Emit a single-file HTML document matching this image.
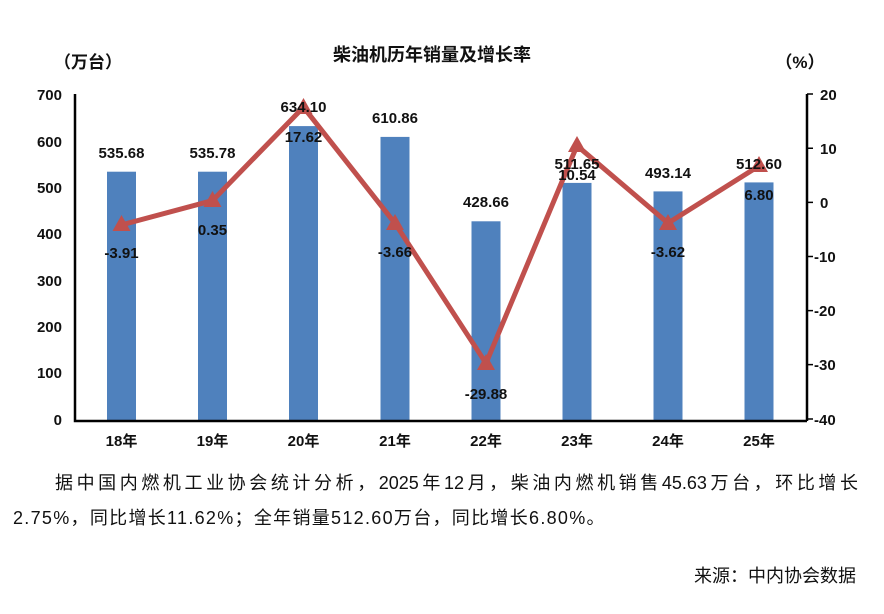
<!DOCTYPE html>
<html><head><meta charset="utf-8"><style>
body{margin:0;background:#fff;width:884px;height:614px;overflow:hidden;font-family:"Liberation Sans","Noto Sans CJK SC",sans-serif}
.p{position:absolute;font-size:18px;color:#111;line-height:30px;white-space:nowrap}
</style></head><body>
<svg width="884" height="470" style="position:absolute;left:0;top:0" font-family="Liberation Sans, Noto Sans CJK SC, sans-serif" font-weight="bold">
<text x="432" y="61" font-size="18" text-anchor="middle" fill="#111">柴油机历年销量及增长率</text>
<text x="88" y="68" font-size="17" text-anchor="middle" fill="#111">（万台）</text>
<text x="800" y="68" font-size="17" text-anchor="middle" fill="#111">（%）</text>
<g fill="#4f81bd">
<rect x="107" y="171.7" width="29" height="248.3"/>
<rect x="198" y="171.7" width="29" height="248.3"/>
<rect x="289" y="126.1" width="29" height="293.9"/>
<rect x="380.5" y="136.9" width="29" height="283.1"/>
<rect x="471.5" y="221.3" width="29" height="198.7"/>
<rect x="562.5" y="182.9" width="29" height="237.1"/>
<rect x="653.5" y="191.4" width="29" height="228.6"/>
<rect x="744.5" y="182.4" width="29" height="237.6"/>
</g>
<g stroke="#000" stroke-width="2.5" fill="none">
<path d="M75 94V421H807M807 94V421"/>
</g>
<g stroke="#000" stroke-width="1.5">
<path d="M807 94h6M807 148.3h6M807 202.4h6M807 256.5h6M807 310.6h6M807 364.6h6M807 419h6"/>
</g>
<g font-size="15" fill="#111" text-anchor="end">
<text x="62" y="100">700</text><text x="62" y="147">600</text><text x="62" y="193">500</text><text x="62" y="239">400</text><text x="62" y="286">300</text><text x="62" y="332">200</text><text x="62" y="378">100</text><text x="62" y="425">0</text>
</g>
<g font-size="15" fill="#111" text-anchor="start">
<text x="820" y="100">20</text><text x="820" y="154">10</text><text x="820" y="208">0</text><text x="814" y="262">-10</text><text x="814" y="316">-20</text><text x="814" y="370">-30</text><text x="814" y="425">-40</text>
</g>
<g font-size="15" fill="#111" text-anchor="middle">
<text x="121.5" y="446">18年</text><text x="212.5" y="446">19年</text><text x="303.5" y="446">20年</text><text x="395" y="446">21年</text><text x="486" y="446">22年</text><text x="577" y="446">23年</text><text x="668" y="446">24年</text><text x="759" y="446">25年</text>
</g>
<polyline fill="none" stroke="#c0504d" stroke-width="5" stroke-linejoin="round" points="121.5,224.9 212.5,200.6 303.5,107.2 395,223.3 486,363.3 577,145.7 668,223.1 759,165.9"/>
<g fill="#c0504d">
<path d="M121.5 215l-9 16h18z"/><path d="M212.5 191l-9 16h18z"/><path d="M303.5 98l-9 16h18z"/><path d="M395 214l-9 16h18z"/><path d="M486 354l-9 16h18z"/><path d="M577 136l-9 16h18z"/><path d="M668 214l-9 16h18z"/><path d="M759 156l-9 16h18z"/>
</g>
<g font-size="15" fill="#111" text-anchor="middle">
<text x="121.5" y="158">535.68</text><text x="212.5" y="158">535.78</text><text x="303.5" y="112">634.10</text><text x="395" y="123">610.86</text><text x="486" y="207">428.66</text><text x="577" y="169">511.65</text><text x="668" y="178">493.14</text><text x="759" y="169">512.60</text>
<text x="121.5" y="258">-3.91</text><text x="212.5" y="235">0.35</text><text x="303.5" y="142">17.62</text><text x="395" y="257">-3.66</text><text x="486" y="399">-29.88</text><text x="577" y="180">10.54</text><text x="668" y="257">-3.62</text><text x="759" y="200">6.80</text>
</g>
</svg>
<div class="p" style="top:468px;left:55px;width:803px;text-align:justify;text-align-last:justify;white-space:normal">据中国内燃机工业协会统计分析，2025年12月，柴油内燃机销售45.63万台，环比增长</div>
<div class="p" style="top:503px;left:13px;letter-spacing:1.3px">2.75%，同比增长11.62%；全年销量512.60万台，同比增长6.80%。</div>
<div class="p" style="top:561px;right:28px">来源：中内协会数据</div>
</body></html>
